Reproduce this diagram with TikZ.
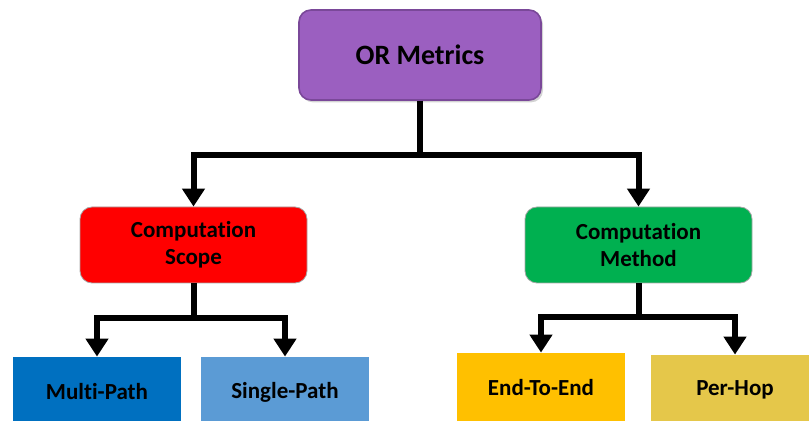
\documentclass[tikz,border=0pt]{standalone}
\usepackage{fontspec}
\setmainfont{Carlito}[Ligatures=NoCommon]
\usepackage{tikz}
\usetikzlibrary{arrows.meta}
\usetikzlibrary{shadows}
\usepackage{xcolor}
\definecolor{metpurple}{HTML}{9B5FC0}
\definecolor{metpurpledk}{HTML}{7A4899}
\definecolor{scopered}{HTML}{FF0000}
\definecolor{methgreen}{HTML}{00B050}
\definecolor{multiblue}{HTML}{0070C0}
\definecolor{singleblue}{HTML}{5B9BD5}
\definecolor{endgold}{HTML}{FFC000}
\definecolor{hopgold}{HTML}{E5C74A}

\begin{document}
\begin{tikzpicture}[x=0.5pt,y=-0.5pt,
  topbox/.style={draw=metpurpledk, line width=0.8pt, fill=metpurple, rounded corners=6pt,
    minimum width=121pt, minimum height=45pt, font=\fontsize{14}{16}\selectfont\bfseries,
    drop shadow={opacity=0.35, shadow xshift=1pt, shadow yshift=-1.2pt}},
  midbox/.style={draw=gray!70, line width=0.4pt, rounded corners=6pt, align=center,
    minimum width=113.5pt, minimum height=38pt, font=\fontsize{11.5}{13.5}\selectfont\bfseries},
  leafbox/.style={minimum width=84pt, minimum height=35pt, font=\fontsize{11.5}{13}\selectfont\bfseries},
  link/.style={line width=3pt, -{Triangle[width=11pt,length=9pt]}}]
\useasboundingbox (0,0) rectangle (809,421);
\clip (0,0) rectangle (809,421);

% boxes
\node [topbox] (root) at (420,55) {OR Metrics};
\node [midbox, fill=scopered] (scope) at (193.5,245) {Computation\\Scope};
\node [midbox, fill=methgreen] (method) at (638.5,245) {Computation\\Method};
\node [leafbox, fill=multiblue] (multi) at (97,392) {Multi-Path};
\node [leafbox, fill=singleblue] (single) at (285,392) {Single-Path};
\node [leafbox, fill=endgold] (endend) at (541,388) {End-To-End};
\node [leafbox, fill=hopgold] (perhop) at (735,390) {Per-Hop};

% bars
\coordinate (rootbar) at (420,155);
\coordinate (scopebar) at (193.5,318);
\coordinate (methbar) at (638.5,317);

\draw [link] (root.south) -- (rootbar) -| (scope.north);
\draw [link] (root.south) -- (rootbar) -| (method.north);
\draw [link] (scope.south) -- (scopebar) -| (multi.north);
\draw [link] (scope.south) -- (scopebar) -| (single.north);
\draw [link] (method.south) -- (methbar) -| (endend.north);
\draw [link] (method.south) -- (methbar) -| (perhop.north);

\end{tikzpicture}
\end{document}
